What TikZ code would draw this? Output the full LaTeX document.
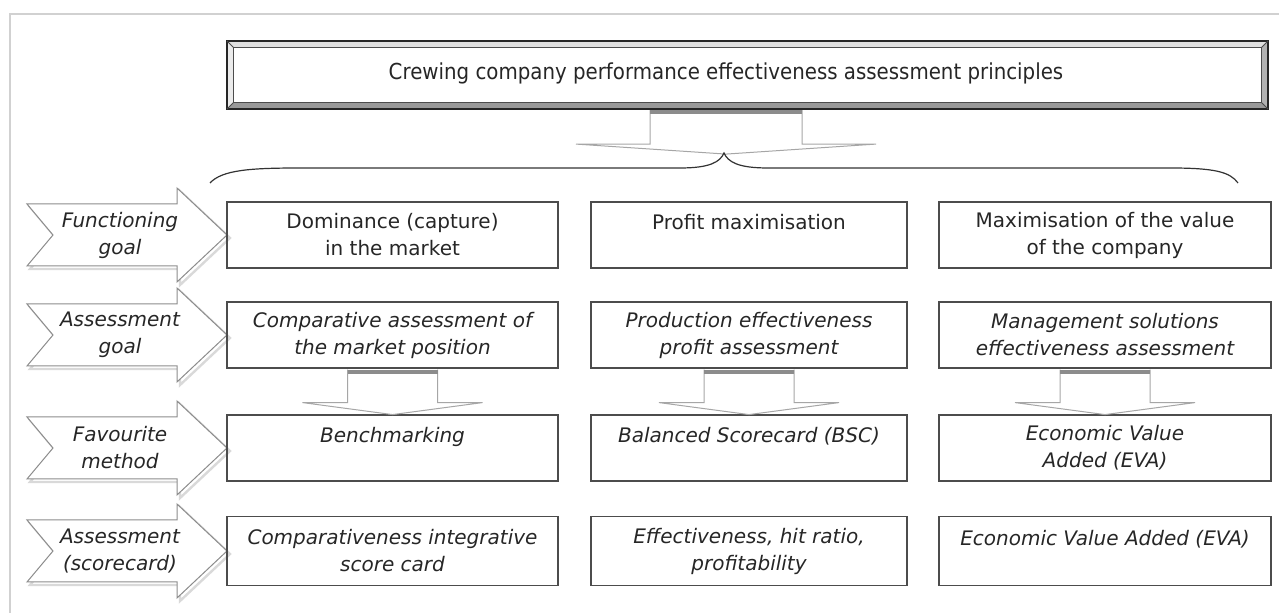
\documentclass[tikz,border=0pt]{standalone}
\usepackage{fontspec}
\setmainfont{DejaVu Sans}
\newfontfamily\titlefont[FakeStretch=0.9]{DejaVu Sans}

\begin{document}
\begin{tikzpicture}[x=0.5pt,y=-0.5pt,
  box/.style={draw=black!70, line width=0.6pt, minimum width=#1, minimum height=33pt,
    inner sep=0pt, align=center, text=black!85, font=\fontsize{10}{13.5}\selectfont},
  ibox/.style={box=#1, font=\fontsize{10}{13.5}\selectfont\itshape},
  chev/.style={draw=black!45, fill=white, line width=0.5pt},
  chevshade/.style={draw=black!15, line width=1.2pt},
  rowlabel/.style={align=center, text=black!85, font=\fontsize{10}{13.5}\selectfont\itshape},
  blockarrow/.style={draw=black!35, fill=white, line width=0.5pt},
  arrowbar/.style={draw=black!45, line width=2pt}]
\useasboundingbox (0,0) rectangle (1279,613);

% outer frame
\draw[black!18, line width=1.3pt] (10,613) -- (10,14) -- (1279,14);

% title banner
\node[draw=black!85, line width=1.1pt, minimum width=519.5pt, minimum height=33pt, inner sep=0pt] (banner) at (747.5,75) {};
\fill[black!12] (banner.north west) -- (banner.north east) -- ([shift={(-7,7)}]banner.north east) -- ([shift={(7,7)}]banner.north west) -- cycle;
\fill[black!8] (banner.north west) -- (banner.south west) -- ([shift={(7,-7)}]banner.south west) -- ([shift={(7,7)}]banner.north west) -- cycle;
\fill[black!30] (banner.north east) -- (banner.south east) -- ([shift={(-7,-7)}]banner.south east) -- ([shift={(-7,7)}]banner.north east) -- cycle;
\fill[black!40] (banner.south west) -- (banner.south east) -- ([shift={(-7,-7)}]banner.south east) -- ([shift={(7,-7)}]banner.south west) -- cycle;
\draw[black!85, line width=1.1pt] (banner.north west) rectangle (banner.south east);
\draw[black!70, line width=0.5pt] ([shift={(7,7)}]banner.north west) rectangle ([shift={(-7,-7)}]banner.south east);
\draw[black!70, line width=0.4pt] (banner.north west) -- ([shift={(7,7)}]banner.north west)
  (banner.south west) -- ([shift={(7,-7)}]banner.south west)
  (banner.north east) -- ([shift={(-7,7)}]banner.north east)
  (banner.south east) -- ([shift={(-7,-7)}]banner.south east);
\node[text=black!85, font=\titlefont\fontsize{11}{13}\selectfont] (title) at (726,73) {Crewing company performance effectiveness assessment principles};

% big arrow down to the brace
\begin{scope}[shift={(title |- banner.south)}]
\draw[blockarrow] (-76,1) -- (-76,35) -- (-150,35) -- (0,45) -- (150,35) -- (76,35) -- (76,1);
\draw[arrowbar] (-76,3) -- (76,3);
\end{scope}

% brace
\draw[black!80, line width=0.6pt] (210,183) .. controls (222,170) and (250,168) .. (300,168) -- (680,168)
  .. controls (710,168) and (720,162) .. (724,153) .. controls (728,162) and (738,168) .. (768,168)
  -- (1170,168) .. controls (1215,168) and (1230,172) .. (1238,183);

% row labels
\foreach \y/\lab [count=\i] in {235/{Functioning\\goal}, 335/{Assessment\\goal},
    448/{Favourite\\method}, 551/{Assessment\\(scorecard)}} {
  \begin{scope}[shift={(0,\y)}]
  \draw[chevshade] (30,-28) -- (180,-28) -- (180,-44) -- (230,3) -- (180,50) -- (180,34) -- (30,34) -- (56,3) -- cycle;
  \draw[chev] (27,-31) -- (177,-31) -- (177,-47) -- (227,0) -- (177,47) -- (177,31) -- (27,31) -- (53,0) -- cycle;
  \end{scope}
  \node[rowlabel] (lab\i) at (120,\y) {\lab};
}

% functioning goal
\node[box=165.5pt] (fun1) at (392.5,235) {Dominance (capture)\\in the market};
\node[box=158pt] (fun2) at (749,235) {Profit maximisation\\\mbox{}};
\node[box=166pt] (fun3) at (1105,235) {Maximisation of the value\\of the company};

% assessment goal
\node[ibox=165.5pt] (ass1) at (392.5,335) {Comparative assessment of\\the market position};
\node[ibox=158pt] (ass2) at (749,335) {Production effectiveness\\profit assessment};
\node[ibox=166pt] (ass3) at (1105,335) {Management solutions\\effectiveness assessment};

% favourite method
\node[ibox=165.5pt] (fav1) at (392.5,448) {Benchmarking\\\mbox{}};
\node[ibox=158pt] (fav2) at (749,448) {Balanced Scorecard (BSC)\\\mbox{}};
\node[ibox=166pt] (fav3) at (1105,448) {Economic Value\\Added (EVA)};

% scorecard
\node[ibox=165.5pt, minimum height=34.5pt] (sc1) at (392.5,551) {Comparativeness integrative\\score card};
\node[ibox=158pt, minimum height=34.5pt] (sc2) at (749,551) {Effectiveness, hit ratio,\\profitability};
\node[ibox=166pt, minimum height=34.5pt] (sc3) at (1105,551) {Economic Value Added (EVA)\\\mbox{}};

% arrows from assessment goal to method
\foreach \c in {1,2,3} {
  \begin{scope}[shift={(ass\c.south)}]
  \draw[blockarrow] (-45,1) -- (-45,34) -- (-90,34) -- (0,46) -- (90,34) -- (45,34) -- (45,1);
  \draw[arrowbar] (-45,3) -- (45,3);
  \end{scope}
}
\end{tikzpicture}
\end{document}
